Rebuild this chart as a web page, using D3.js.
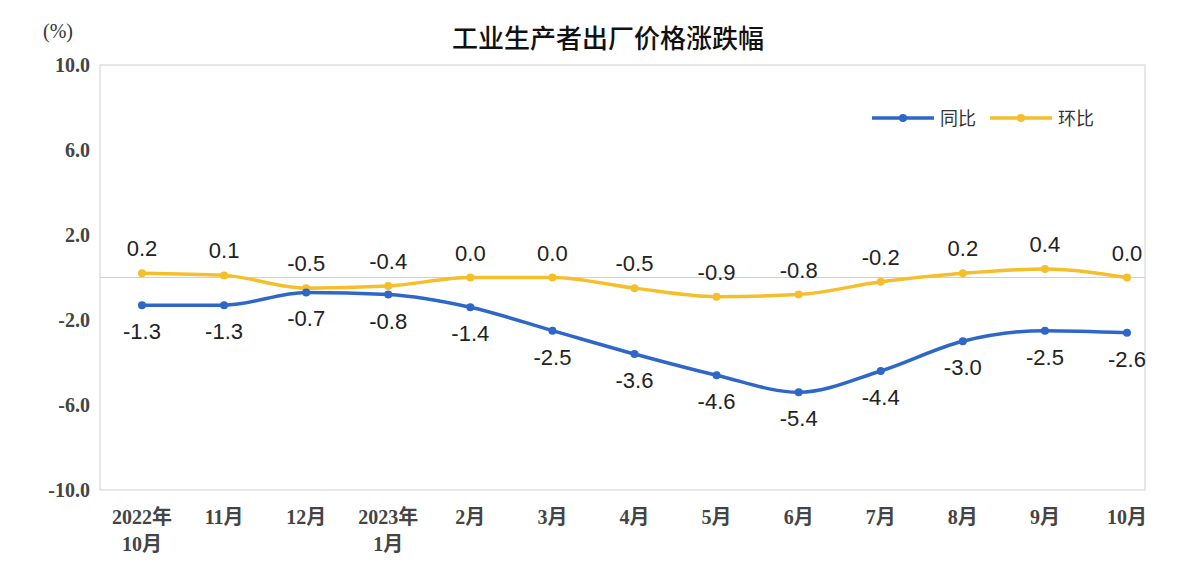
<!DOCTYPE html>
<html><head><meta charset="utf-8">
<script src="https://cdn.jsdelivr.net/npm/d3@7"></script>
<style>body{margin:0;background:#fff}</style>
</head><body><svg id="c" width="1180" height="572"></svg>
<script>
var months = [["2022年","10月"],["11月"],["12月"],["2023年","1月"],["2月"],["3月"],["4月"],["5月"],["6月"],["7月"],["8月"],["9月"],["10月"]];
var yoy = [-1.3,-1.3,-0.7,-0.8,-1.4,-2.5,-3.6,-4.6,-5.4,-4.4,-3.0,-2.5,-2.6];
var mom = [0.2,0.1,-0.5,-0.4,0.0,0.0,-0.5,-0.9,-0.8,-0.2,0.2,0.4,0.0];
var yTicks = [10,6,2,-2,-6,-10];

var svg = d3.select("#c");
var x = d3.scalePoint().domain(d3.range(months.length)).range([142,1127]);
var y = d3.scaleLinear().domain([-10,10]).range([490,65]);

svg.append("rect").attr("x",100).attr("y",65).attr("width",1045).attr("height",425)
  .attr("fill","none").attr("stroke","#d0d0d0");
svg.append("line").attr("x1",100).attr("x2",1145).attr("y1",y(0)).attr("y2",y(0)).attr("stroke","#d0d0d0");

svg.append("text").attr("x",608).attr("y",48).attr("text-anchor","middle")
  .attr("font-family","Noto Sans CJK SC").attr("font-size",26).attr("font-weight",500).attr("fill","#111").text("工业生产者出厂价格涨跌幅");
svg.append("text").attr("x",58).attr("y",38).attr("text-anchor","middle")
  .attr("font-family","Liberation Serif").attr("font-size",20).attr("fill","#333").text("(%)");

svg.selectAll(".yt").data(yTicks).enter().append("text")
  .attr("x",90).attr("y",function(d){return y(d)+7}).attr("text-anchor","end")
  .attr("font-family","Liberation Serif").attr("font-weight","bold").attr("font-size",20).attr("fill","#444")
  .text(function(d){return d.toFixed(1)});

months.forEach(function(m,i){
  var t = svg.append("text").attr("x",x(i)).attr("text-anchor","middle")
    .attr("font-family","Liberation Serif, Noto Sans CJK SC").attr("font-weight","bold").attr("font-size",20).attr("fill","#444");
  m.forEach(function(s,j){ t.append("tspan").attr("x",x(i)).attr("y",524+j*27).text(s); });
});

var line = d3.line().x(function(d,i){return x(i)}).y(function(d){return y(d)}).curve(d3.curveMonotoneX);
function series(data,color,dy){
  svg.append("path").datum(data).attr("d",line).attr("fill","none").attr("stroke",color).attr("stroke-width",3.5);
  svg.selectAll(null).data(data).enter().append("circle")
    .attr("cx",function(d,i){return x(i)}).attr("cy",function(d){return y(d)}).attr("r",4).attr("fill",color);
  svg.selectAll(null).data(data).enter().append("text")
    .attr("x",function(d,i){return x(i)}).attr("y",function(d){return y(d)+dy})
    .attr("text-anchor","middle").attr("font-family","Liberation Sans").attr("font-size",22).attr("fill","#222")
    .text(function(d){return d.toFixed(1)});
}
series(mom,"#f5bf2b",-17);
series(yoy,"#2e67c8",34);

var legend = [["同比","#2e67c8",872],["环比","#f5bf2b",990]];
legend.forEach(function(l){
  svg.append("line").attr("x1",l[2]).attr("x2",l[2]+62).attr("y1",118).attr("y2",118).attr("stroke",l[1]).attr("stroke-width",3.5);
  svg.append("circle").attr("cx",l[2]+31).attr("cy",118).attr("r",4).attr("fill",l[1]);
  svg.append("text").attr("x",l[2]+68).attr("y",125).attr("font-family","Noto Sans CJK SC").attr("font-size",18).attr("fill","#333").text(l[0]);
});
</script></body></html>
